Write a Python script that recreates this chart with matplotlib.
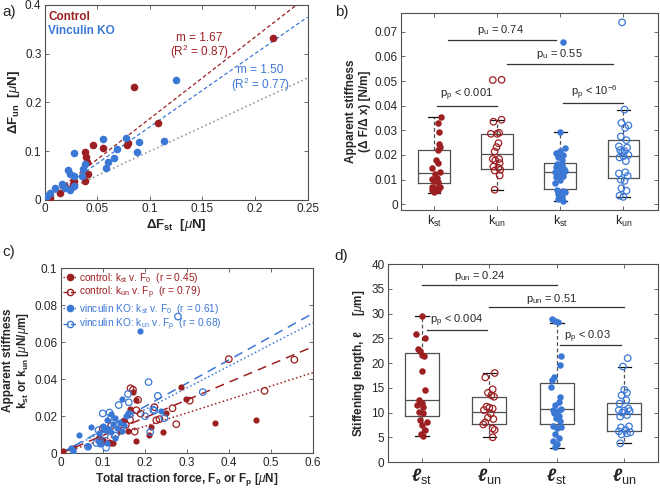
import numpy as np
import matplotlib

matplotlib.use("Agg", force=True)
import matplotlib.pyplot as plt
from matplotlib.lines import Line2D

RED = "#9c1f22"
BLUE = "#3b78d6"
GRAY = "#505050"
TXT = "#262626"

# ---- panel a: delta F_un vs delta F_st
a_ctrl_x = [0.2168, 0.085, 0.108, 0.046, 0.0556, 0.078, 0.079, 0.038, 0.039, 0.040,
            0.041, 0.038, 0.0275, 0.027, 0.024, 0.014, 0.005, 0.019]
a_ctrl_y = [0.332, 0.232, 0.157, 0.113, 0.107, 0.113, 0.117, 0.099, 0.089, 0.077,
            0.053, 0.039, 0.039, 0.032, 0.022, 0.015, 0.003, 0.027]
a_ko_x = [0.125, 0.055, 0.077, 0.0895, 0.113, 0.0877, 0.028, 0.069, 0.066, 0.060,
          0.0585, 0.038, 0.036, 0.035, 0.022, 0.024, 0.0275, 0.016, 0.0095, 0.005,
          0.019, 0.028, 0.024, 0.002]
a_ko_y = [0.245, 0.125, 0.126, 0.118, 0.121, 0.099, 0.096, 0.104, 0.087, 0.078,
          0.066, 0.073, 0.063, 0.049, 0.061, 0.053, 0.049, 0.032, 0.025, 0.015,
          0.025, 0.029, 0.021, 0.008]
a_slope_ctrl = 1.67
a_slope_ko = 1.50

# ---- panel b: apparent stiffness per group
b_kst_ctrl = [0.0355, 0.033, 0.0292, 0.0245, 0.0234, 0.022, 0.018, 0.0167, 0.0148, 0.013,
              0.0124, 0.0108, 0.0104, 0.0094, 0.009, 0.007, 0.0068, 0.007, 0.0059, 0.0057, 0.005]
b_kst_ctrl_off = [0.11, 0.06, 0.08, 0.08, 0.10, 0.07, 0.03, 0.07, -0.03, 0.10,
                  0.02, 0.05, -0.03, 0.0, 0.07, -0.03, 0.03, 0.10, -0.04, 0.06, 0.0]
b_kun_ctrl = [0.0505, 0.0504, 0.0343, 0.0335, 0.0290, 0.0286, 0.0286, 0.0248, 0.0232, 0.0214,
              0.0184, 0.0184, 0.0178, 0.0167, 0.0153, 0.0148, 0.0140, 0.0137, 0.0117, 0.0059]
b_kun_ctrl_off = [0.07, -0.07, 0.07, -0.06, 0.03, -0.10, 0.0, 0.02, -0.01, -0.04,
                  -0.07, 0.03, -0.03, 0.04, -0.06, 0.02, 0.05, -0.04, 0.04, -0.04]
b_kst_ko = [0.066, 0.0295, 0.023, 0.0215, 0.021, 0.020, 0.019, 0.018, 0.0165, 0.016,
            0.015, 0.0145, 0.014, 0.0135, 0.013, 0.0128, 0.012, 0.0115, 0.011, 0.010,
            0.0085, 0.006, 0.0055, 0.005, 0.004, 0.003, 0.002, 0.0012]
b_kst_ko_off = [0.04, 0.0, 0.07, 0.0, -0.06, 0.05, -0.03, 0.02, -0.05, 0.03,
                -0.07, 0.06, -0.02, 0.08, -0.09, 0.03, -0.04, 0.05, -0.06, 0.0,
                -0.08, -0.05, 0.04, 0.07, -0.03, 0.02, -0.04, 0.05]
b_kun_ko = [0.0738, 0.0384, 0.033, 0.032, 0.031, 0.0275, 0.026, 0.0235, 0.023, 0.022,
            0.0215, 0.021, 0.020, 0.0195, 0.019, 0.0175, 0.013, 0.0125, 0.0115, 0.010,
            0.0095, 0.0065, 0.0055, 0.0035, 0.003]
b_kun_ko_off = [-0.02, 0.02, -0.03, 0.08, 0.03, -0.04, 0.05, -0.07, 0.06, -0.05,
                0.02, -0.02, 0.08, 0.0, -0.06, 0.04, 0.03, -0.07, 0.07, -0.04,
                0.02, -0.03, 0.05, -0.06, 0.0]
b_q1 = [0.0086, 0.0144, 0.0062, 0.0108]
b_med = [0.0125, 0.0203, 0.0133, 0.0195]
b_q3 = [0.0221, 0.0285, 0.0168, 0.0261]
b_lo = [0.0047, 0.0059, 0.0012, 0.0030]
b_hi = [0.0355, 0.0343, 0.0295, 0.0384]

# ---- panel c: stiffness vs total traction force
c_kst_ctrl_x = [0.005, 0.03, 0.09, 0.10, 0.115, 0.12, 0.125, 0.14, 0.15, 0.16, 0.165,
                0.172, 0.18, 0.18, 0.21, 0.215, 0.243, 0.251, 0.287, 0.299, 0.366, 0.465]
c_kst_ctrl_y = [0.001, 0.003, 0.009, 0.007, 0.0063, 0.0055, 0.0058, 0.012, 0.018, 0.012, 0.024,
                0.033, 0.029, 0.0067, 0.0099, 0.0144, 0.0114, 0.022, 0.0355, 0.0294, 0.0165, 0.018]
c_kun_ctrl_x = [0.097, 0.10, 0.12, 0.155, 0.165, 0.166, 0.172, 0.176, 0.184, 0.19,
                0.223, 0.2275, 0.235, 0.266, 0.275, 0.307, 0.40, 0.485, 0.556, 0.18]
c_kun_ctrl_y = [0.0059, 0.0135, 0.0148, 0.0153, 0.018, 0.0351, 0.0343, 0.0117, 0.0288, 0.0214,
                0.0249, 0.0178, 0.0184, 0.0243, 0.0157, 0.0284, 0.0508, 0.0337, 0.0505, 0.0232]
c_kst_ko_x = [0.147, 0.239, 0.16, 0.12, 0.155, 0.13, 0.11, 0.14, 0.125, 0.15, 0.10, 0.073,
              0.135, 0.115, 0.105, 0.145, 0.12, 0.09, 0.0436, 0.13, 0.091, 0.11, 0.094,
              0.065, 0.024, 0.03, 0.03, 0.188]
c_kst_ko_y = [0.0295, 0.023, 0.0215, 0.021, 0.020, 0.019, 0.018, 0.0165, 0.016, 0.015, 0.0145,
              0.014, 0.0135, 0.013, 0.0128, 0.012, 0.0115, 0.011, 0.010, 0.0085, 0.006, 0.0055,
              0.005, 0.004, 0.003, 0.002, 0.0012, 0.066]
c_kun_ko_x = [0.209, 0.338, 0.16, 0.231, 0.162, 0.138, 0.22, 0.223, 0.116, 0.10, 0.164,
              0.201, 0.12, 0.247, 0.126, 0.11, 0.09, 0.213, 0.105, 0.13, 0.093, 0.085,
              0.065, 0.108, 0.279]
c_kun_ko_y = [0.0384, 0.033, 0.032, 0.031, 0.0275, 0.026, 0.0235, 0.023, 0.022, 0.0215, 0.021,
              0.020, 0.0195, 0.019, 0.0175, 0.013, 0.0125, 0.0115, 0.010, 0.0095, 0.0065,
              0.0055, 0.0035, 0.003, 0.0738]
c_fit_end = [0.0435, 0.0575, 0.0705, 0.0755]  # value of each fit at F = 0.6

# ---- panel d: stiffening length per group
d_lst_ctrl = [29.6, 25.9, 25.0, 22.8, 22.5, 21.7, 21.4, 18.5, 14.6, 12.6, 12.0,
              11.5, 11.2, 10.1, 10.0, 8.4, 8.1, 7.4, 6.5, 5.6, 5.3]
d_lst_ctrl_off = [0.0, -0.08, 0.04, -0.05, -0.02, 0.01, 0.03, 0.0, 0.05, -0.04, 0.0,
                  -0.07, 0.02, -0.04, 0.02, -0.02, 0.07, 0.01, 0.04, -0.01, 0.02]
d_lun_ctrl = [18.0, 17.1, 14.7, 14.0, 13.5, 13.2, 11.2, 11.0, 10.8, 10.5, 9.8, 9.0,
              8.7, 8.0, 7.6, 6.8, 6.5, 5.0]
d_lun_ctrl_off = [0.08, -0.06, 0.05, -0.02, 0.03, 0.07, -0.04, 0.0, 0.05, -0.08, 0.02,
                  -0.02, 0.06, -0.06, -0.09, 0.05, 0.08, 0.05]
d_lst_ko = [28.9, 28.6, 28.3, 21.5, 19.7, 17.2, 16.5, 15.1, 13.2, 12.2, 11.5, 10.8, 10.6,
            10.3, 10.0, 9.4, 9.0, 8.2, 7.3, 7.0, 6.8, 5.6, 4.8, 4.3, 3.6, 3.0]
d_lst_ko_off = [-0.07, -0.02, 0.02, 0.06, 0.05, -0.04, -0.07, -0.08, 0.05, 0.03, -0.03,
                0.06, -0.06, 0.02, -0.04, 0.04, -0.01, 0.05, -0.05, 0.06, 0.0, -0.03,
                0.03, -0.06, 0.0, -0.02]
d_lun_ko = [21.0, 19.3, 14.6, 14.0, 13.5, 12.5, 11.8, 10.8, 10.5, 10.4, 10.3, 10.0,
            9.5, 9.2, 7.2, 7.0, 6.5, 6.2, 6.0, 5.8, 5.6, 3.8]
d_lun_ko_off = [0.05, -0.02, 0.0, 0.04, -0.04, 0.03, -0.07, 0.06, -0.08, 0.0, 0.08,
                -0.03, 0.04, -0.06, 0.07, -0.05, 0.02, -0.08, 0.09, 0.04, -0.04, -0.06]
d_q1 = [9.3, 7.7, 7.7, 6.2]
d_med = [12.5, 10.1, 10.7, 9.7]
d_q3 = [22.0, 13.2, 16.0, 12.0]
d_lo = [5.3, 5.0, 2.9, 3.8]
d_hi = [29.6, 18.0, 28.1, 19.3]

plt.rcParams["font.family"] = ["Liberation Sans", "DejaVu Sans"]
plt.rcParams["mathtext.fontset"] = "custom"
plt.rcParams["mathtext.rm"] = "Liberation Sans"
plt.rcParams["mathtext.it"] = "Liberation Sans:italic"
plt.rcParams["mathtext.bf"] = "Liberation Sans:bold"

FS = 8.5      # tick labels
FL = 8.5      # axis labels

fig = plt.figure(figsize=(6.6, 4.9), dpi=100)
ax_a = fig.add_axes([0.068, 0.592, 0.398, 0.398])
ax_b = fig.add_axes([0.608, 0.571, 0.389, 0.402])
ax_c = fig.add_axes([0.092, 0.075, 0.382, 0.378])
ax_d = fig.add_axes([0.588, 0.057, 0.409, 0.404])


def style(ax):
    for s in ax.spines.values():
        s.set_color(GRAY)
        s.set_linewidth(0.8)
    ax.tick_params(direction="in", top=True, right=True, length=3, width=0.6,
                   colors=GRAY, labelcolor=TXT, labelsize=FS, pad=2.5)


# panel a
ax_a.scatter(a_ctrl_x, a_ctrl_y, s=30, color=RED, zorder=3, linewidths=0)
ax_a.scatter(a_ko_x, a_ko_y, s=30, color=BLUE, zorder=3, linewidths=0)
xx = np.array([0, 0.25])
ax_a.plot(xx, a_slope_ctrl * xx, "--", color=RED, lw=0.9, dashes=(3, 2))
ax_a.plot(xx, a_slope_ko * xx, "--", color=BLUE, lw=0.9, dashes=(3, 2))
ax_a.plot(xx, xx, ":", color="#999999", lw=1.2)
ax_a.set_xlim(0, 0.25)
ax_a.set_ylim(0, 0.4)
ax_a.set_xticks([0, 0.05, 0.1, 0.15, 0.2, 0.25])
ax_a.set_xticklabels(["0", "0.05", "0.1", "0.15", "0.2", "0.25"])
ax_a.set_yticks([0, 0.1, 0.2, 0.3, 0.4])
ax_a.set_yticklabels(["0", "0.1", "0.2", "0.3", "0.4"])
ax_a.text(0.147, 0.333, "m = 1.67", color=RED, ha="center", va="center", fontsize=FS)
ax_a.text(0.147, 0.303, "(R$^2$ = 0.87)", color=RED, ha="center", va="center", fontsize=FS)
ax_a.text(0.205, 0.267, "m = 1.50", color=BLUE, ha="center", va="center", fontsize=FS)
ax_a.text(0.205, 0.236, "(R$^2$ = 0.77)", color=BLUE, ha="center", va="center", fontsize=FS)
ax_a.text(0.012, 0.94, "Control", color=RED, fontweight="bold", fontsize=FL,
          transform=ax_a.transAxes, va="center")
ax_a.text(0.012, 0.865, "Vinculin KO", color=BLUE, fontweight="bold", fontsize=FL,
          transform=ax_a.transAxes, va="center")
ax_a.set_xlabel(r"$\mathbf{\Delta F_{st}}$  [$\mu$N]", fontsize=9.5, fontweight="bold",
                labelpad=1.5, color=TXT)
ax_a.set_ylabel(r"$\mathbf{\Delta F_{un}}$  [$\mu$N]", fontsize=9.5, fontweight="bold",
                labelpad=2, color=TXT)
style(ax_a)


def boxes(ax, q1, med, q3, lo, hi):
    stats = [dict(q1=a, med=m, q3=b, whislo=l, whishi=h, fliers=[])
             for a, m, b, l, h in zip(q1, med, q3, lo, hi)]
    ax.bxp(stats, positions=[1, 2, 3, 4], widths=0.5, capwidths=0.2, showfliers=False,
           boxprops=dict(color=GRAY, lw=0.9), medianprops=dict(color=GRAY, lw=0.9),
           whiskerprops=dict(color=GRAY, lw=0.9, linestyle=(0, (3, 2))),
           capprops=dict(color="#111111", lw=0.9), manage_ticks=False)


def jitter(ax, pos, vals, offs, color, filled, s=22):
    xs = pos + np.array(offs)
    if filled:
        ax.scatter(xs, vals, s=s, color=color, zorder=3, linewidths=0)
    else:
        ax.scatter(xs, vals, s=s, facecolors="none", edgecolors=color, zorder=3, linewidths=0.9)


# panel b
boxes(ax_b, b_q1, b_med, b_q3, b_lo, b_hi)
jitter(ax_b, 1, b_kst_ctrl, b_kst_ctrl_off, RED, True)
jitter(ax_b, 2, b_kun_ctrl, b_kun_ctrl_off, RED, False)
jitter(ax_b, 3, b_kst_ko, b_kst_ko_off, BLUE, True)
jitter(ax_b, 4, b_kun_ko, b_kun_ko_off, BLUE, False)
ax_b.set_xlim(0.48, 4.55)
ax_b.set_ylim(-0.0024, 0.0775)
ax_b.set_yticks([0, 0.01, 0.02, 0.03, 0.04, 0.05, 0.06, 0.07])
ax_b.set_yticklabels(["0", "0.01", "0.02", "0.03", "0.04", "0.05", "0.06", "0.07"])
ax_b.set_xticks([1, 2, 3, 4])
ax_b.set_xticklabels([r"k$_{\rm st}$", r"k$_{\rm un}$", r"k$_{\rm st}$", r"k$_{\rm un}$"])
ax_b.set_ylabel("Apparent stiffness\n(Δ F/Δ x) [N/m]",
                fontsize=FL, fontweight="bold", color=TXT, labelpad=3, linespacing=1.15)
for x0, x1, y, tx, ty, s in [(1.22, 2.93, 0.0665, 2.05, 0.0705, r"p$_{\rm u}$ = 0.74"),
                             (2.15, 3.83, 0.057, 2.98, 0.0610, r"p$_{\rm u}$ = 0.55"),
                             (1.05, 2.0, 0.040, 1.52, 0.0444, r"p$_{\rm p}$ < 0.001"),
                             (3.04, 4.0, 0.0409, 3.54, 0.0453, r"p$_{\rm p}$ < 10$^{-6}$")]:
    ax_b.plot([x0, x1], [y, y], color="#333333", lw=0.9)
    ax_b.text(tx, ty, s, ha="center", va="center", fontsize=8, color=TXT)
style(ax_b)

# panel c
ax_c.scatter(c_kst_ctrl_x, c_kst_ctrl_y, s=20, color=RED, zorder=3, linewidths=0)
ax_c.scatter(c_kun_ctrl_x, c_kun_ctrl_y, s=22, facecolors="none", edgecolors=RED,
             zorder=3, linewidths=0.9)
ax_c.scatter(c_kst_ko_x, c_kst_ko_y, s=20, color=BLUE, zorder=3, linewidths=0)
ax_c.scatter(c_kun_ko_x, c_kun_ko_y, s=22, facecolors="none", edgecolors=BLUE,
             zorder=3, linewidths=0.9)
fx = np.array([0, 0.6])
styles_c = [(RED, ":"), (RED, (0, (6, 4))), (BLUE, ":"), (BLUE, (0, (6, 4)))]
for end, (col, ls) in zip(c_fit_end, styles_c):
    ax_c.plot(fx, fx / 0.6 * end, color=col, linestyle=ls, lw=1.1)
handles = [Line2D([], [], color=RED, ls=":", marker="o", ms=4.5, lw=1),
           Line2D([], [], color=RED, ls="--", marker="o", ms=4.5, mfc="none", lw=1),
           Line2D([], [], color=BLUE, ls=":", marker="o", ms=4.5, lw=1),
           Line2D([], [], color=BLUE, ls="--", marker="o", ms=4.5, mfc="none", lw=1)]
labels = [r"control: k$_{\rm st}$ v. F$_0$  (r = 0.45)",
          r"control: k$_{\rm un}$ v. F$_{\rm p}$  (r = 0.79)",
          r"vinculin KO: k$_{\rm st}$ v. F$_0$  (r = 0.61)",
          r"vinculin KO: k$_{\rm un}$ v. F$_{\rm p}$  (r = 0.68)"]
leg = ax_c.legend(handles, labels, loc="upper left", frameon=False, fontsize=7.3,
                  handlelength=1.4, handletextpad=0.2, labelspacing=0.05,
                  borderaxespad=0.15, borderpad=0.1)
for t, col in zip(leg.get_texts(), [RED, RED, BLUE, BLUE]):
    t.set_color(col)
ax_c.set_xlim(0, 0.6)
ax_c.set_ylim(0, 0.1)
ax_c.set_xticks([0, 0.1, 0.2, 0.3, 0.4, 0.5, 0.6])
ax_c.set_xticklabels(["0", "0.1", "0.2", "0.3", "0.4", "0.5", "0.6"])
ax_c.set_yticks([0, 0.02, 0.04, 0.06, 0.08, 0.1])
ax_c.set_yticklabels(["0", "0.02", "0.04", "0.06", "0.08", "0.1"])
ax_c.set_xlabel(r"Total traction force, F$_\mathbf{0}$ or F$_\mathbf{p}$ [$\mu$N]",
                fontsize=FL, fontweight="bold", color=TXT, labelpad=1.5)
ax_c.set_ylabel("Apparent stiffness\n" + r"k$_\mathbf{st}$ or k$_\mathbf{un}$ [$\mu$N/$\mu$m]",
                fontsize=FL, fontweight="bold", color=TXT, labelpad=2, linespacing=1.15)
style(ax_c)

# panel d
boxes(ax_d, d_q1, d_med, d_q3, d_lo, d_hi)
jitter(ax_d, 1, d_lst_ctrl, d_lst_ctrl_off, RED, True)
jitter(ax_d, 2, d_lun_ctrl, d_lun_ctrl_off, RED, False)
jitter(ax_d, 3, d_lst_ko, d_lst_ko_off, BLUE, True)
jitter(ax_d, 4, d_lun_ko, d_lun_ko_off, BLUE, False)
ax_d.set_xlim(0.5, 4.5)
ax_d.set_ylim(0, 40)
ax_d.set_yticks([0, 5, 10, 15, 20, 25, 30, 35, 40])
ax_d.set_xticks([1, 2, 3, 4])
ax_d.set_xticklabels(["ℓ$_{\\rm st}$", "ℓ$_{\\rm un}$", "ℓ$_{\\rm st}$", "ℓ$_{\\rm un}$"])
ax_d.set_ylabel("Stiffening length, ℓ     [$\\mu$m]", fontsize=FL,
                fontweight="bold", color=TXT, labelpad=3)
for x0, x1, y, tx, ty, s in [(1.0, 3.0, 35.8, 1.86, 37.5, r"p$_{\rm un}$ = 0.24"),
                             (2.0, 4.0, 31.3, 2.93, 32.9, r"p$_{\rm un}$ = 0.51"),
                             (1.07, 1.96, 26.7, 1.52, 28.5, r"p$_{\rm p}$ < 0.004"),
                             (3.05, 3.95, 23.6, 3.45, 25.4, r"p$_{\rm p}$ < 0.03")]:
    ax_d.plot([x0, x1], [y, y], color="#333333", lw=0.9)
    ax_d.text(tx, ty, s, ha="center", va="center", fontsize=8, color=TXT)
style(ax_d)
for t in ax_d.get_xticklabels():
    t.set_fontsize(13)
    t.set_fontweight("bold")
    t.set_fontstyle("italic")
for t in ax_b.get_xticklabels():
    t.set_fontsize(9)

for lbl, x, y in [("a)", 0.003, 0.975), ("b)", 0.507, 0.975), ("c)", 0.003, 0.485), ("d)", 0.507, 0.478)]:
    fig.text(x, y, lbl, fontsize=11, color=TXT, va="center")

fig.savefig("out.png", dpi=100)
